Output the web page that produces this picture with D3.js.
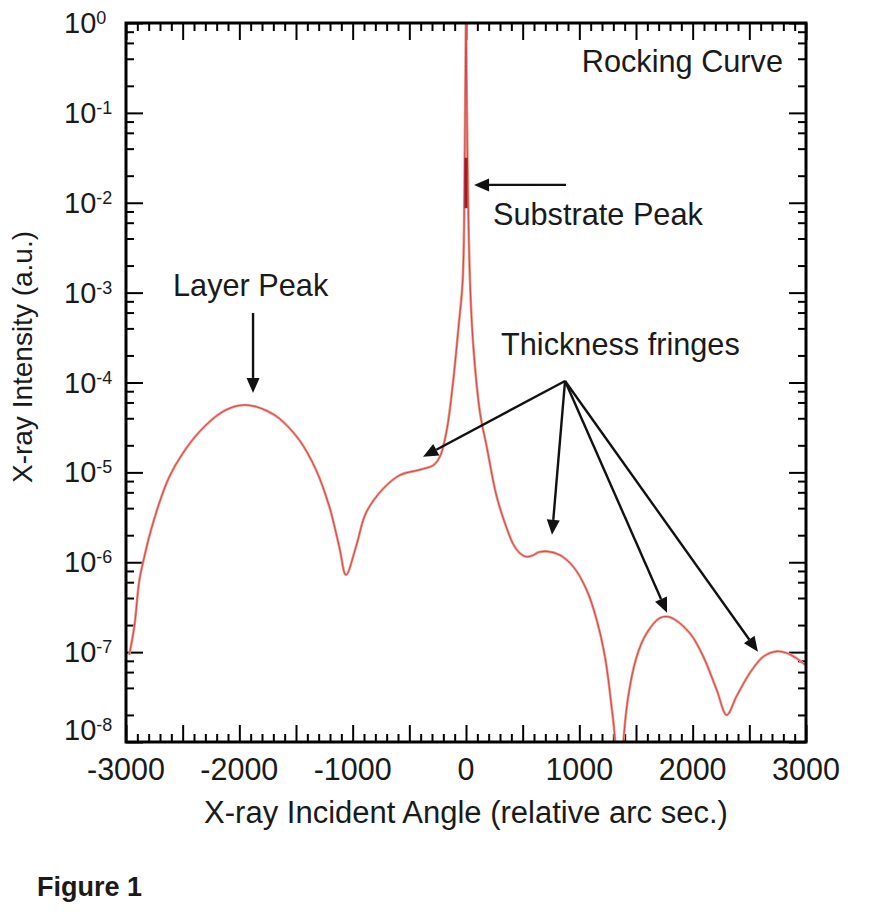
<!DOCTYPE html>
<html>
<head>
<meta charset="utf-8">
<script src="https://cdn.jsdelivr.net/npm/d3@7"></script>
<style>
  body { margin: 0; background: #fff; }
  text { font-family: "Liberation Sans", Arial, Helvetica, sans-serif; fill: #1a1a1a; }
</style>
</head>
<body>
<svg id="chart" width="869" height="915"></svg>
<script>
// rocking curve (angle in arc sec, intensity a.u.)
const angle = [-2971, -2926, -2882, -2838, -2794, -2706, -2618, -2500, -2353, -2177,
  -2050, -1950, -1850, -1750, -1647, -1471, -1324, -1206, -1118, -1059,
  -971, -882, -730, -582, -406, -288, -229, -170, -112, -68,
  -29, -12, -5, 0, 5, 14, 35, 65, 124, 182,
  271, 359, 418, 476, 535, 594, 640, 712, 829, 947,
  1065, 1153, 1226, 1285, 1315, 1350, 1388, 1432, 1506, 1594,
  1712, 1800, 1976, 2094, 2212, 2300, 2388, 2506, 2624, 2741,
  2829, 2918, 2991];
const intensity = [9.33e-8, 1.95e-7, 6.31e-7, 1.15e-6, 1.95e-6, 4.57e-6, 8.91e-6, 1.62e-5, 2.82e-5, 4.47e-5,
  5.37e-5, 5.62e-5, 5.37e-5, 4.79e-5, 3.98e-5, 2.29e-5, 1.07e-5, 4.17e-6, 1.48e-6, 7.24e-7,
  1.48e-6, 3.55e-6, 6.61e-6, 9.33e-6, 1.07e-5, 1.20e-5, 1.51e-5, 2.95e-5, 1.07e-4, 3.89e-4,
  1.38e-3, 2.51e-2, 0.251, 1.0, 0.251, 2.51e-2, 1.38e-3, 2.51e-4, 4.57e-5, 1.95e-5,
  5.37e-6, 2.40e-6, 1.58e-6, 1.26e-6, 1.15e-6, 1.20e-6, 1.29e-6, 1.32e-6, 1.20e-6, 8.91e-7,
  4.90e-7, 2.29e-7, 8.91e-8, 2.45e-8, 1.05e-8, 1e-9, 9.77e-9, 3.24e-8, 8.91e-8, 1.62e-7,
  2.40e-7, 2.45e-7, 1.62e-7, 8.91e-8, 3.80e-8, 2.00e-8, 3.24e-8, 5.89e-8, 8.91e-8, 1.02e-7,
  9.77e-8, 8.51e-8, 7.24e-8];

// dark segment on the substrate peak
const substrateMark = [[0, 0.0316], [0, 0.0087]];

const xTickLabels = [-3000, -2000, -1000, 0, 1000, 2000, 3000];
const yDecades = [-8, -7, -6, -5, -4, -3, -2, -1, 0];

// arrows: [fromAngle, fromIntensity, toAngle, toIntensity]
const arrows = [
  [882, 0.0158, 71, 0.0158],
  [-1879, 5.94e-4, -1879, 7.66e-5],
  [874, 1.04e-4, -379, 1.49e-5],
  [874, 1.04e-4, 759, 2.02e-6],
  [874, 1.04e-4, 1774, 2.74e-7],
  [874, 1.04e-4, 2576, 1.01e-7]
];

const svg = d3.select("#chart");
const margin = {top: 23, right: 63, bottom: 173, left: 126};
const width = 869 - margin.left - margin.right,
      height = 915 - margin.top - margin.bottom;

const x = d3.scaleLinear().domain([-3000, 3000]).range([margin.left, margin.left + width]);
const y = d3.scaleLog().domain([1e-8, 1]).range([margin.top + height, margin.top]);

// ticks, pointing inward on all four sides
const xMajor = d3.range(-3000, 3001, 500);
const xMinor = d3.range(-3000, 3001, 100).filter(v => v % 500 != 0);
const yMajor = yDecades.map(e => Math.pow(10, e));
const yMinor = [];
yDecades.slice(0, -1).forEach(e => [2, 4, 6, 8].forEach(m => yMinor.push(m * Math.pow(10, e))));

function tickSet(axis, vals, size, tr) {
  svg.append("g")
    .attr("transform", tr)
    .call(axis.tickValues(vals).tickSize(-size).tickFormat(""))
    .call(g => g.select(".domain").remove())
    .selectAll("line")
    .attr("stroke", "#000")
    .attr("stroke-width", 2);
}
const bottomY = margin.top + height, rightX = margin.left + width;
tickSet(d3.axisBottom(x), xMajor, 17, "translate(0," + bottomY + ")");
tickSet(d3.axisBottom(x), xMinor, 8, "translate(0," + bottomY + ")");
tickSet(d3.axisTop(x), xMajor, 17, "translate(0," + margin.top + ")");
tickSet(d3.axisTop(x), xMinor, 8, "translate(0," + margin.top + ")");
tickSet(d3.axisLeft(y), yMajor, 17, "translate(" + margin.left + ",0)");
tickSet(d3.axisLeft(y), yMinor, 8, "translate(" + margin.left + ",0)");
tickSet(d3.axisRight(y), yMajor, 17, "translate(" + rightX + ",0)");
tickSet(d3.axisRight(y), yMinor, 8, "translate(" + rightX + ",0)");

// curve
svg.append("clipPath").attr("id", "plotClip")
  .append("rect")
  .attr("x", margin.left).attr("y", margin.top - 1)
  .attr("width", width).attr("height", height + 1);

const data = angle.map((a, i) => [a, intensity[i]]);
const line = d3.line()
  .x(d => x(d[0]))
  .y(d => y(d[1]))
  .curve(d3.curveCatmullRom.alpha(0.5));

const curve = svg.append("g").attr("clip-path", "url(#plotClip)");
curve.append("path")
  .datum(data)
  .attr("d", line)
  .style("fill", "none")
  .style("stroke", "#f09482")
  .style("stroke-width", 2.6);
curve.append("path")
  .datum(data)
  .attr("d", line)
  .style("fill", "none")
  .style("stroke", "#c33340")
  .style("stroke-opacity", 0.8)
  .style("stroke-width", 1);
curve.append("path")
  .datum(substrateMark)
  .attr("d", d3.line().x(d => x(d[0])).y(d => y(d[1])))
  .style("stroke", "#a31a26")
  .style("stroke-width", 3);

// frame
svg.append("rect")
  .attr("x", margin.left).attr("y", margin.top)
  .attr("width", width).attr("height", height)
  .attr("fill", "none")
  .attr("stroke", "#000")
  .attr("stroke-width", 3);

// x tick labels
svg.append("g").selectAll("text")
  .data(xTickLabels).enter()
  .append("text")
  .attr("x", d => x(d))
  .attr("y", bottomY + 38)
  .attr("text-anchor", "middle")
  .style("font-size", "30.5px")
  .text(d => d);

// y tick labels 10^n
const yl = svg.append("g").selectAll("text")
  .data(yDecades).enter()
  .append("text")
  .attr("x", 64)
  .attr("y", d => y(Math.pow(10, d)) + 10 - (d == -8 ? 12 : 0))
  .style("font-size", "29px");
yl.append("tspan").text("10");
yl.append("tspan")
  .attr("dy", -9)
  .style("font-size", "18px")
  .text(d => d);

// axis titles
svg.append("text")
  .attr("x", margin.left + width / 2)
  .attr("y", 823)
  .attr("text-anchor", "middle")
  .style("font-size", "31px")
  .text("X-ray Incident Angle (relative arc sec.)");

svg.append("text")
  .attr("transform", "translate(32,357)rotate(-90)")
  .attr("text-anchor", "middle")
  .style("font-size", "28px")
  .text("X-ray Intensity (a.u.)");

// annotations
svg.append("text").attr("x", 783).attr("y", 72).attr("text-anchor", "end")
  .style("font-size", "30.7px").text("Rocking Curve");
svg.append("text").attr("x", 493).attr("y", 225)
  .style("font-size", "30.7px").text("Substrate Peak");
svg.append("text").attr("x", 173).attr("y", 296)
  .style("font-size", "30.7px").text("Layer Peak");
svg.append("text").attr("x", 501).attr("y", 355)
  .style("font-size", "30.7px").text("Thickness fringes");

const headLen = 15, headHalf = 6.5;
arrows.forEach(a => {
  const x1 = x(a[0]), y1 = y(a[1]), x2 = x(a[2]), y2 = y(a[3]);
  const len = Math.hypot(x2 - x1, y2 - y1);
  const ux = (x2 - x1) / len, uy = (y2 - y1) / len;
  const bx = x2 - ux * headLen, by = y2 - uy * headLen;
  svg.append("line")
    .attr("x1", x1).attr("y1", y1).attr("x2", bx).attr("y2", by)
    .attr("stroke", "#111").attr("stroke-width", 2.4);
  svg.append("polygon")
    .attr("points", [[x2, y2], [bx - uy * headHalf, by + ux * headHalf], [bx + uy * headHalf, by - ux * headHalf]].join(" "))
    .attr("fill", "#111");
});

svg.append("text").attr("x", 37).attr("y", 896)
  .style("font-size", "27px").style("font-weight", "bold")
  .text("Figure 1");
</script>
</body>
</html>
